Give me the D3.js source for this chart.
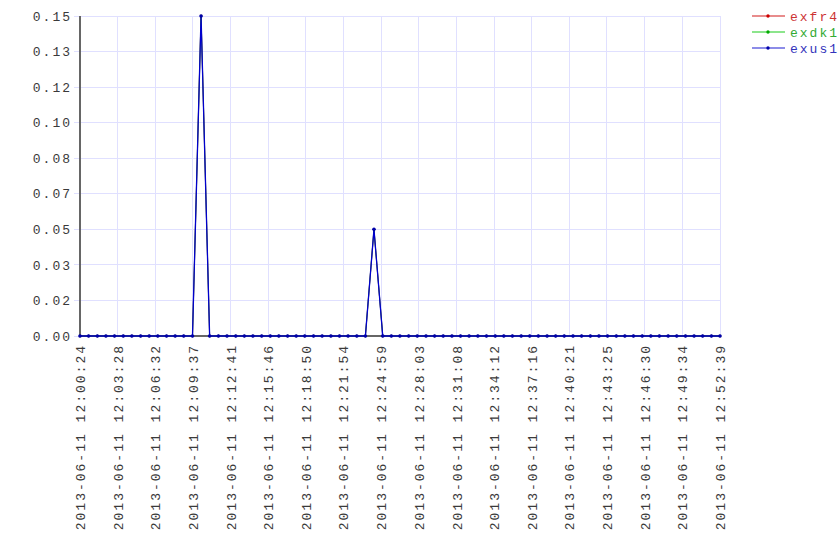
<!DOCTYPE html>
<html><head><meta charset="utf-8">
<script src="https://cdn.jsdelivr.net/npm/d3@7"></script>
<style>
body{margin:0;background:#fff;}
text{font-family:"Liberation Mono","DejaVu Sans Mono",monospace;font-size:13px;letter-spacing:2px;}
</style></head><body>
<svg id="c" width="840" height="560"></svg>
<script>
const times = ["12:00:24","12:01:06","12:01:49","12:02:31","12:03:13","12:03:56","12:04:38","12:05:21","12:06:03","12:06:45",
"12:07:28","12:08:10","12:08:52","12:09:35","12:10:17","12:10:59","12:11:42","12:12:24","12:13:07","12:13:49",
"12:14:31","12:15:14","12:15:56","12:16:38","12:17:21","12:18:03","12:18:45","12:19:28","12:20:10","12:20:53",
"12:21:35","12:22:17","12:23:00","12:23:42","12:24:24","12:25:07","12:25:49","12:26:31","12:27:14","12:27:56",
"12:28:39","12:29:21","12:30:03","12:30:46","12:31:28","12:32:10","12:32:53","12:33:35","12:34:18","12:35:00",
"12:35:42","12:36:25","12:37:07","12:37:49","12:38:32","12:39:14","12:39:56","12:40:39","12:41:21","12:42:04",
"12:42:46","12:43:28","12:44:11","12:44:53","12:45:35","12:46:18","12:47:00","12:47:42","12:48:25","12:49:07",
"12:49:50","12:50:32","12:51:14","12:51:57","12:52:39"];
const exfr4 = [0,0,0,0,0,0,0,0,0,0, 0,0,0,0,0.15,0,0,0,0,0, 0,0,0,0,0,0,0,0,0,0, 0,0,0,0,0.05,0,0,0,0,0,
0,0,0,0,0,0,0,0,0,0, 0,0,0,0,0,0,0,0,0,0, 0,0,0,0,0,0,0,0,0,0, 0,0,0,0,0];
const exdk1 = [0,0,0,0,0,0,0,0,0,0, 0,0,0,0,0.15,0,0,0,0,0, 0,0,0,0,0,0,0,0,0,0, 0,0,0,0,0.05,0,0,0,0,0,
0,0,0,0,0,0,0,0,0,0, 0,0,0,0,0,0,0,0,0,0, 0,0,0,0,0,0,0,0,0,0, 0,0,0,0,0];
const exus1 = [0,0,0,0,0,0,0,0,0,0, 0,0,0,0,0.15,0,0,0,0,0, 0,0,0,0,0,0,0,0,0,0, 0,0,0,0,0.05,0,0,0,0,0,
0,0,0,0,0,0,0,0,0,0, 0,0,0,0,0,0,0,0,0,0, 0,0,0,0,0,0,0,0,0,0, 0,0,0,0,0];
const xTickLabels = ["12:00:24","12:03:28","12:06:32","12:09:37","12:12:41","12:15:46","12:18:50","12:21:54","12:24:59",
"12:28:03","12:31:08","12:34:12","12:37:16","12:40:21","12:43:25","12:46:30","12:49:34","12:52:39"];
const datePrefix = "2013-06-11";
const yTicks = [0, 0.0167, 0.0333, 0.05, 0.0667, 0.0833, 0.10, 0.1167, 0.1333, 0.15];
const seriesNames = ["exfr4","exdk1","exus1"];

const parse = d3.timeParse("%Y-%m-%d %H:%M:%S");
const svg = d3.select("#c");
const L=80,R=720,T=16,B=336;
const tAll = times.map(t=>parse(datePrefix+" "+t));
const x = d3.scaleTime().domain([tAll[0], tAll[tAll.length-1]]).range([L,R]);
const y = d3.scaleLinear().domain([0,0.15]).range([B,T]);
const tickDates = xTickLabels.map(t=>parse(datePrefix+" "+t));

// grid
const grid = svg.append("g");
grid.selectAll("line.h").data(yTicks).join("line")
  .attr("x1",L-6).attr("x2",R).attr("y1",d=>y(d)).attr("y2",d=>y(d))
  .attr("stroke","#e0e0ff").attr("stroke-width",1).attr("shape-rendering","crispEdges");
grid.selectAll("line.v").data(tickDates).join("line")
  .attr("x1",d=>x(d)).attr("x2",d=>x(d)).attr("y1",T).attr("y2",B)
  .attr("stroke","#e0e0ff").attr("stroke-width",1).attr("shape-rendering","crispEdges");

// y axis
const yAxis = d3.axisLeft(y).tickValues(yTicks).tickFormat(d3.format(".2f")).tickSize(0).tickPadding(8);
const ya = svg.append("g").attr("transform",`translate(${L},0)`).call(yAxis);
ya.select(".domain").remove();
ya.attr("font-size",null).attr("font-family",null);
ya.selectAll("text").attr("fill","#3a3a3a");

// x axis
const xAxis = d3.axisBottom(x).tickValues(tickDates).tickFormat(d3.timeFormat("%Y-%m-%d %H:%M:%S")).tickSize(0);
const xa = svg.append("g").attr("transform",`translate(0,${B})`).call(xAxis);
xa.select(".domain").remove();
xa.attr("font-size",null).attr("font-family",null);
xa.selectAll("text").attr("fill","#3a3a3a")
  .attr("transform","rotate(-90)").attr("text-anchor","end")
  .attr("x",-8).attr("y",0).attr("dy","0.35em");

// axis lines
svg.append("line").attr("x1",L).attr("x2",L).attr("y1",T).attr("y2",B+1)
  .attr("stroke","#666").attr("stroke-width",2);
svg.append("line").attr("x1",L).attr("x2",R).attr("y1",B).attr("y2",B)
  .attr("stroke","#666").attr("stroke-width",2);

// series (exus1 drawn last, on top)
const colors = {exfr4:"#cc0000",exdk1:"#00bb00",exus1:"#0000cc"};
const widths = {exfr4:0.8,exdk1:0.8,exus1:1.3};
const dots = {exfr4:"#990000",exdk1:"#008800",exus1:"#0000aa"};
const radii = {exfr4:1.2,exdk1:1.2,exus1:1.8};
const seriesData = {exfr4, exdk1, exus1};
const line = d3.line().x((d,i)=>x(tAll[i])).y(d=>y(d));
seriesNames.forEach(n=>{
  const g = svg.append("g");
  g.append("path").datum(seriesData[n]).attr("d",line).attr("fill","none")
    .attr("stroke",colors[n]).attr("stroke-width",widths[n]);
  g.selectAll("circle").data(seriesData[n]).join("circle")
    .attr("cx",(d,i)=>x(tAll[i])).attr("cy",d=>y(d)).attr("r",radii[n]).attr("fill",dots[n]);
});

// legend
const legLine = {exfr4:"#e06666",exdk1:"#66dd66",exus1:"#6666e0"};
const legDot = {exfr4:"#cc0000",exdk1:"#00aa00",exus1:"#0000aa"};
const legText = {exfr4:"#cc3333",exdk1:"#33aa33",exus1:"#3333bb"};
const lg = svg.append("g");
seriesNames.forEach((n,i)=>{
  const yy = 16 + i*16;
  lg.append("line").attr("x1",752).attr("x2",785).attr("y1",yy).attr("y2",yy)
    .attr("stroke",legLine[n]).attr("stroke-width",1.5);
  lg.append("circle").attr("cx",768).attr("cy",yy).attr("r",1.7).attr("fill",legDot[n]);
  lg.append("text").attr("x",790).attr("y",yy).attr("dy","0.35em").attr("fill",legText[n]).text(n);
});
</script></body></html>
